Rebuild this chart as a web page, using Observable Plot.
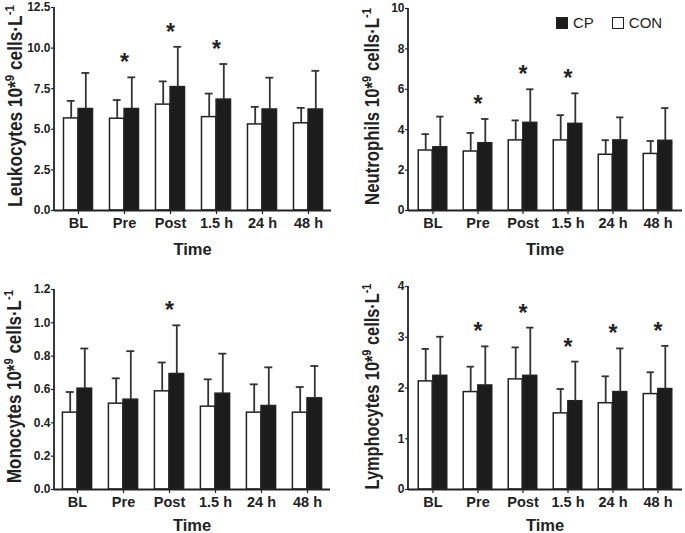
<!DOCTYPE html>
<html><head><meta charset="utf-8">
<script src="https://cdn.jsdelivr.net/npm/d3@7"></script>
<script src="https://cdn.jsdelivr.net/npm/@observablehq/plot@0.6"></script>
<style>
body{margin:0;background:#fff;}
#wrap{position:relative;width:685px;height:533px;font-family:"Liberation Sans",Arial,sans-serif;overflow:hidden;}
.panel{position:absolute;}
.legend{position:absolute;left:556px;top:14px;font-size:15px;color:#222;display:flex;align-items:center;white-space:nowrap;}
.sw{display:inline-block;width:10px;height:10px;border:1.5px solid #222;box-sizing:content-box;margin-right:5px;}
</style></head><body><div id="wrap"></div>
<script>
const times = ["BL","Pre","Post","1.5 h","24 h","48 h"];
const groups = ["CON","CP"];

const leukoCON = [5.67,5.65,6.52,5.75,5.30,5.37];
const leukoCONsd = [1.08,1.15,1.43,1.45,1.08,0.95];
const leukoCP = [6.25,6.25,7.60,6.83,6.22,6.22];
const leukoCPsd = [2.22,1.95,2.48,2.19,1.96,2.38];
const leukoSig = [false,true,true,true,false,false];

const neutroCON = [2.97,2.92,3.47,3.47,2.76,2.80];
const neutroCONsd = [0.81,0.92,0.99,1.25,0.72,0.64];
const neutroCP = [3.13,3.33,4.34,4.29,3.47,3.45];
const neutroCPsd = [1.52,1.20,1.66,1.51,1.14,1.62];
const neutroSig = [false,true,true,true,false,false];

const monoCON = [0.461,0.515,0.589,0.497,0.461,0.461];
const monoCONsd = [0.124,0.152,0.173,0.164,0.170,0.154];
const monoCP = [0.605,0.539,0.693,0.575,0.501,0.547];
const monoCPsd = [0.241,0.291,0.292,0.240,0.232,0.194];
const monoSig = [false,false,true,false,false,false];

const lymphoCON = [2.13,1.92,2.17,1.50,1.70,1.88];
const lymphoCONsd = [0.64,0.50,0.63,0.48,0.53,0.43];
const lymphoCP = [2.24,2.05,2.24,1.74,1.92,1.98];
const lymphoCPsd = [0.77,0.77,0.95,0.78,0.86,0.85];
const lymphoSig = [false,true,true,true,true,true];

const leukoTicks = [0,2.5,5,7.5,10,12.5];
const neutroTicks = [0,2,4,6,8,10];
const monoTicks = [0,0.2,0.4,0.6,0.8,1.0,1.2];
const lymphoTicks = [0,1,2,3,4];

const panels = [
  {name:"Leukocytes", con:leukoCON, conSd:leukoCONsd, cp:leukoCP, cpSd:leukoCPsd, sig:leukoSig, ticks:leukoTicks, fmt:".1f",
   left:0, top:0, width:340, height:265, mL:54, mT:7, mB:55, mR:9, titleX:22, titleY:106, titleLen:202, timeDy:45},
  {name:"Neutrophils", con:neutroCON, conSd:neutroCONsd, cp:neutroCP, cpSd:neutroCPsd, sig:neutroSig, ticks:neutroTicks, fmt:"d",
   left:340, top:0, width:345, height:265, mL:68, mT:8, mB:55, mR:3, titleX:39, titleY:106.5, titleLen:197, timeDy:45},
  {name:"Monocytes", con:monoCON, conSd:monoCONsd, cp:monoCP, cpSd:monoCPsd, sig:monoSig, ticks:monoTicks, fmt:".1f",
   left:0, top:270, width:340, height:263, mL:54, mT:19, mB:44, mR:10, titleX:21, titleY:116.5, titleLen:193, timeDy:42},
  {name:"Lymphocytes", con:lymphoCON, conSd:lymphoCONsd, cp:lymphoCP, cpSd:lymphoCPsd, sig:lymphoSig, ticks:lymphoTicks, fmt:"d",
   left:340, top:270, width:345, height:263, mL:68, mT:16, mB:44, mR:3, titleX:39, titleY:116.5, titleLen:206, timeDy:42}
];

const wrap = document.getElementById("wrap");
const ink = "#222";
const barW = 14.6, capW = 8;

for (const p of panels) {
  const rows = [];
  times.forEach((t,i) => {
    rows.push({time:t, group:"CON", mean:p.con[i], hi:p.con[i]+p.conSd[i]});
    rows.push({time:t, group:"CP", mean:p.cp[i], hi:p.cp[i]+p.cpSd[i]});
  });
  const conRows = rows.filter(d => d.group === "CON");
  const cpRows = rows.filter(d => d.group === "CP");
  const sigRows = cpRows.filter((d,i) => p.sig[i]);
  const step = (p.width - p.mL - p.mR) / times.length;
  const outer = (step - 2*barW) / 2;
  const capInset = (step - capW) / 2;
  const dom = [0, p.ticks[p.ticks.length-1]];

  const plot = Plot.plot({
    width: p.width, height: p.height,
    marginLeft: p.mL, marginTop: p.mT, marginBottom: p.mB, marginRight: p.mR,
    style: {fontFamily: "Liberation Sans, Arial, sans-serif", color: ink, background: "white"},
    x: {domain: times, padding: 0, axis: null},
    y: {domain: dom, axis: null},
    marks: [
      Plot.barY(conRows, {x:"time", y:"mean", fill:"white", stroke:ink, strokeWidth:1.5, insetLeft: outer, insetRight: step/2}),
      Plot.barY(cpRows, {x:"time", y:"mean", fill:"#1c1c1c", stroke:ink, strokeWidth:1.5, insetLeft: step/2, insetRight: outer}),
      Plot.ruleX(conRows, {x:"time", y1:"mean", y2:"hi", dx:-barW/2, stroke:"#333", strokeWidth:1.8}),
      Plot.ruleX(cpRows, {x:"time", y1:"mean", y2:"hi", dx:barW/2, stroke:"#333", strokeWidth:1.8}),
      Plot.tickY(conRows, {x:"time", y:"hi", dx:-barW/2, insetLeft:capInset, insetRight:capInset, stroke:"#333", strokeWidth:1.8}),
      Plot.tickY(cpRows, {x:"time", y:"hi", dx:barW/2, insetLeft:capInset, insetRight:capInset, stroke:"#333", strokeWidth:1.8}),
      Plot.text(sigRows, {x:"time", y:"hi", text: () => "*", dy:-7, fontSize:23, fontWeight:"bold", fill:ink, lineAnchor:"bottom"}),
      Plot.axisX({tickSize:4, tickPadding:3, fontSize:14.5, fontWeight:"bold", label:null, stroke:ink, strokeWidth:1.2}),
      Plot.axisY({ticks:p.ticks, tickFormat:d3.format(p.fmt), tickSize:3, tickPadding:1, fontSize:12, fontWeight:"bold", label:null, stroke:ink, strokeWidth:1.2}),
      Plot.ruleY([0], {stroke:ink, strokeWidth:1.8})
    ]
  });
  const div = document.createElement("div");
  div.className = "panel";
  div.style.left = p.left + "px";
  div.style.top = p.top + "px";
  div.appendChild(plot);
  wrap.appendChild(div);

  const svg = d3.select(plot);
  const y0 = p.height - p.mB, y1 = p.mT;
  // left axis line
  svg.append("line").attr("x1", p.mL).attr("x2", p.mL).attr("y1", y0).attr("y2", y1)
    .attr("stroke", ink).attr("stroke-width", 1.8);
  // y title
  const t = svg.append("text")
    .attr("transform", `translate(${p.titleX},${p.titleY}) rotate(-90)`)
    .attr("text-anchor", "middle")
    .attr("font-family", "Liberation Sans, Arial, sans-serif")
    .attr("font-weight", "bold").attr("font-size", 19.5).attr("fill", ink);
  t.append("tspan").text(p.name + " 10*");
  t.append("tspan").attr("font-size", 13).attr("dy", -8).text("9");
  t.append("tspan").attr("dy", 8).text(" cells\u00B7L");
  t.append("tspan").attr("font-size", 13).attr("dy", -8).text("-1");
  const natural = t.node().getBBox().width;
  const sx = natural > 0 ? p.titleLen / natural : 1;
  t.attr("transform", `translate(${p.titleX},${p.titleY}) rotate(-90) scale(${sx},1)`);
  // x title
  svg.append("text")
    .attr("x", (p.mL + p.width - p.mR) / 2).attr("y", y0 + p.timeDy)
    .attr("text-anchor", "middle")
    .attr("font-family", "Liberation Sans, Arial, sans-serif")
    .attr("font-weight", "bold").attr("font-size", 16.5).attr("fill", ink)
    .text("Time");
}

const leg = document.createElement("div");
leg.className = "legend";
leg.innerHTML = `<span class="sw" style="background:#1c1c1c"></span><span style="margin-right:18px">CP</span><span class="sw" style="background:#fff"></span><span>CON</span>`;
wrap.appendChild(leg);
</script></body></html>
